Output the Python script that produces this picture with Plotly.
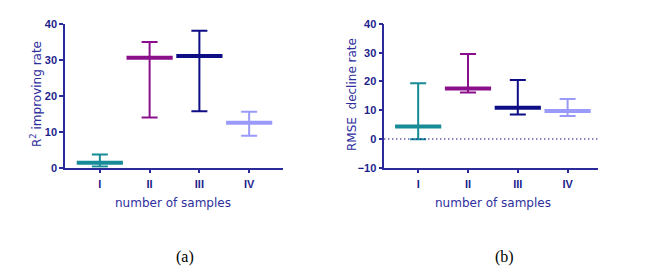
import plotly.graph_objects as go

categories = ["I", "II", "III", "IV"]
colors = ["#178B96", "#8B0F8B", "#0D0D85", "#9A9AFA"]

r2_mean = [1.4, 30.6, 31.1, 12.5]
r2_high = [3.7, 35.0, 38.1, 15.6]
r2_low = [0.3, 14.0, 15.7, 8.9]

rmse_mean = [4.3, 17.6, 10.9, 9.7]
rmse_high = [19.4, 29.6, 20.5, 13.9]
rmse_low = [-0.1, 16.2, 8.5, 8.0]

W, H = 658, 270
axis_color = "#2A2A9A"
tick_font = dict(family="Liberation Sans, Arial", size=11, color="#1E1E8C", weight="bold")

fig = go.Figure()

def add_series(means, highs, lows, xa, ya):
    for i, c in enumerate(categories):
        fig.add_trace(go.Scatter(
            x=[c], y=[means[i]], mode="markers",
            marker=dict(symbol="line-ew", size=33, color=colors[i],
                        line=dict(color=colors[i], width=4)),
            error_y=dict(type="data", symmetric=False,
                         array=[highs[i] - means[i]],
                         arrayminus=[means[i] - lows[i]],
                         color=colors[i], thickness=2, width=8),
            xaxis=xa, yaxis=ya, showlegend=False, hoverinfo="skip"))

add_series(r2_mean, r2_high, r2_low, "x", "y")
add_series(rmse_mean, rmse_high, rmse_low, "x2", "y2")

ytop = 1 - 24 / H
ybot = 1 - 167.7 / H

common_x = dict(type="category", categoryorder="array", categoryarray=categories,
                showline=True, linecolor=axis_color, linewidth=1.5,
                ticks="outside", ticklen=4, tickwidth=1.5, tickcolor=axis_color,
                tickfont=tick_font, showgrid=False, zeroline=False, fixedrange=True,
                automargin=False, ticklabelstandoff=1)
common_y = dict(showline=True, linecolor=axis_color, linewidth=1.5,
                ticks="outside", ticklen=4, tickwidth=1.5, tickcolor=axis_color,
                tickfont=tick_font, showgrid=False, zeroline=False, dtick=10,
                domain=[ybot, ytop], automargin=False)

fig.update_layout(
    width=W, height=H, margin=dict(l=0, r=0, t=0, b=0),
    paper_bgcolor="white", plot_bgcolor="white",
    xaxis=dict(common_x, domain=[65 / W, 283 / W], range=[-0.7, 3.68], anchor="y"),
    yaxis=dict(common_y, range=[0, 40], anchor="x"),
    xaxis2=dict(common_x, domain=[384.3 / W, 598 / W], range=[-0.68, 3.61], anchor="y2"),
    yaxis2=dict(common_y, range=[-10, 40], anchor="x2"),
)

fig.add_shape(type="line", xref="x2 domain", yref="y2", x0=0, x1=1, y0=0, y1=0,
              line=dict(color="#1E1E8C", width=1.5, dash="1px,3px"))

title_font = dict(family="DejaVu Sans, Verdana", size=12, color="#2E2E9E")

def note(text, x, y, font, angle=0):
    fig.add_annotation(text=text, x=x / W, y=1 - y / H, xref="paper", yref="paper",
                       xanchor="center", yanchor="middle", textangle=angle,
                       showarrow=False, font=font)

note("R<sup>2</sup> improving rate", 36, 94, title_font, -90)
note("RMSE  decline rate", 352, 95, title_font, -90)
note("number of samples", 173, 203, title_font)
note("number of samples", 493, 203, title_font)

cap_font = dict(family="Liberation Serif, Times New Roman", size=16, color="black")
note("(a)", 185, 257, cap_font)
note("(b)", 504, 257, cap_font)

fig.write_html("out.html", config={"displayModeBar": False},
               post_script="document.body.style.margin='0';document.body.style.padding='0';")
